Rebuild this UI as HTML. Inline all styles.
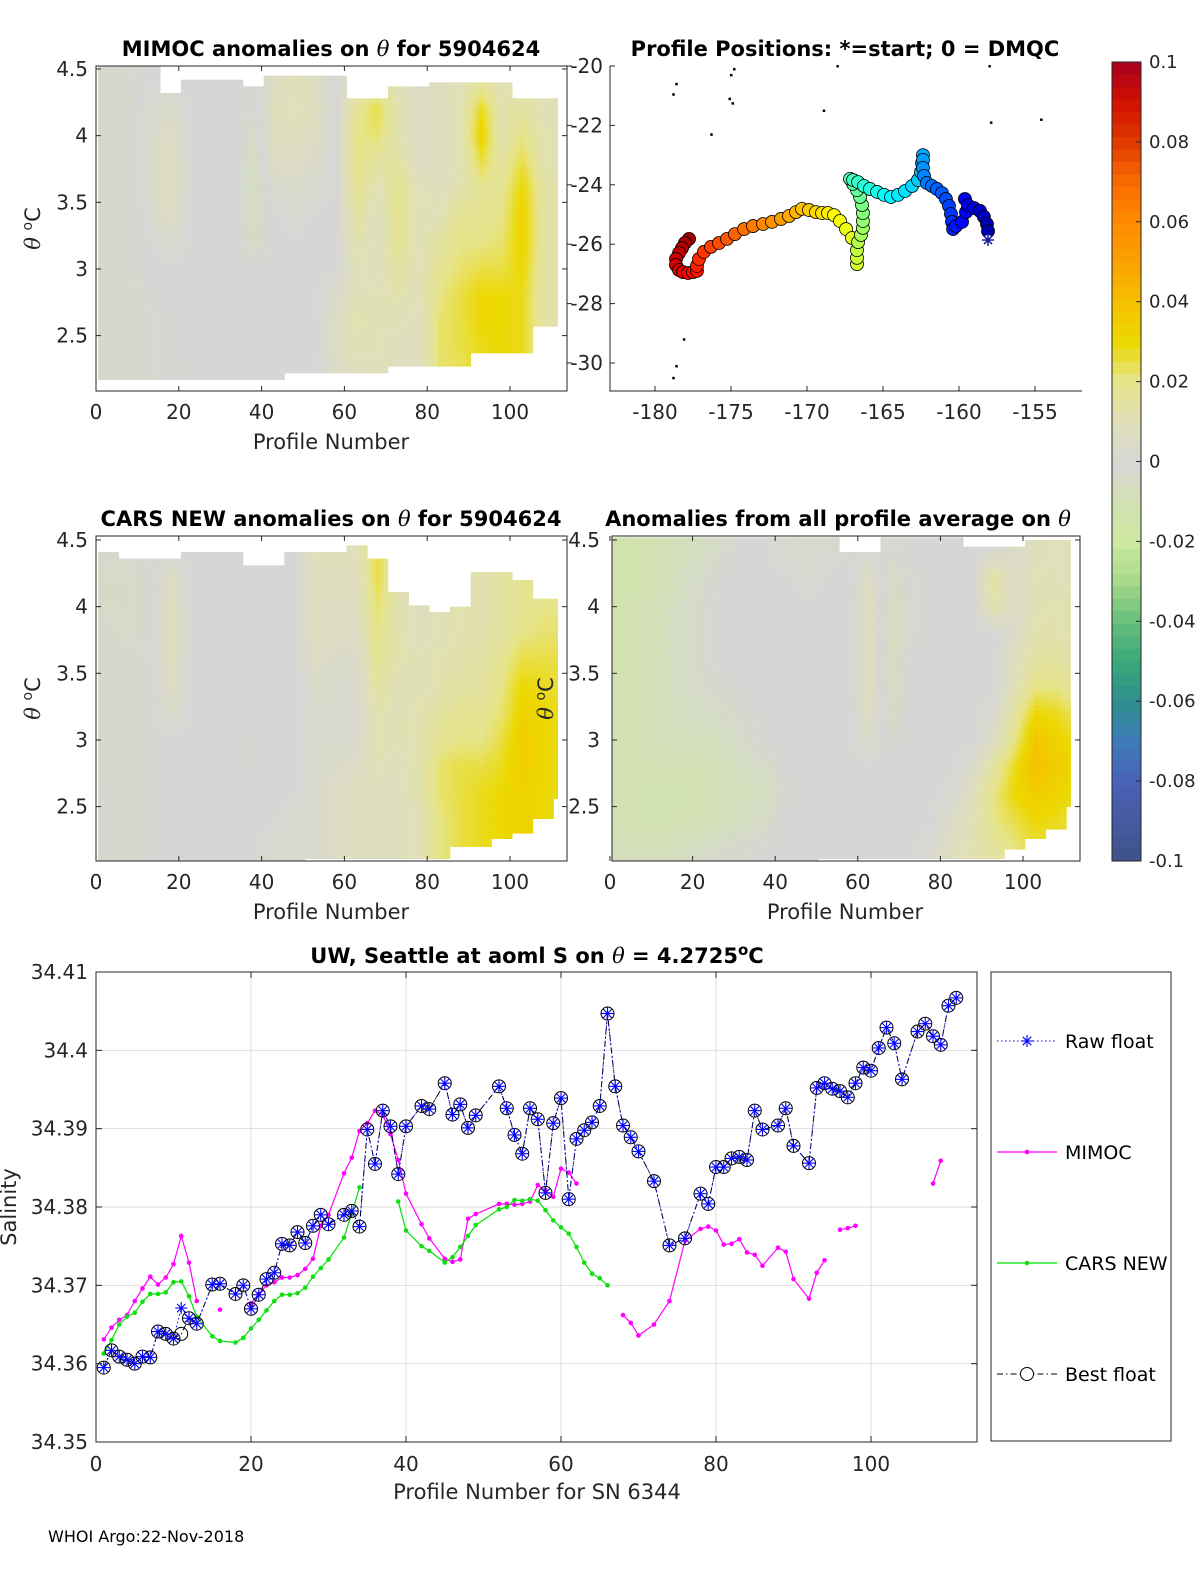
<!DOCTYPE html>
<html><head><meta charset="utf-8">
<style>
html,body{margin:0;padding:0;background:#fff;}
svg{display:block;font-family:"DejaVu Sans","Liberation Sans",sans-serif;}
</style></head>
<body>
<svg id="fig" width="1200" height="1575" viewBox="0 0 1200 1575" xmlns="http://www.w3.org/2000/svg">
<rect width="1200" height="1575" fill="#fff"/>
<g id="p1"></g>
<g id="p2"></g>
<g id="p3"></g>
<g id="p4"></g>
<g id="cb"></g>
<g id="p5"></g>
<text x="48" y="1542" font-size="16" fill="#000">WHOI Argo:22-Nov-2018</text>
</svg>
<script>
// ---------- heatmap data (anomaly in units of 0.001; columns = 5-profile groups, rows = theta bands from 4.5 downward) ----------
const mimocCols = [
[-3,-3,-3,-3,-3,-3,-3,-3,-3,-3,-3,-3],[-2,-2,-2,-2,-2,-2,-3,-3,-3,-3,-3,-3],[0,2,3,3,3,2,0,0,-1,-2,-2,-2],
[0,4,6,8,8,6,3,0,0,-1,-1,-1],[0,0,0,0,0,0,0,0,0,0,0,-1],[0,0,0,0,0,0,0,0,0,0,0,0],[0,0,0,0,0,0,0,0,0,0,0,0],
[0,-2,-4,-6,-6,-6,-5,0,0,0,0,0],[6,8,8,6,2,0,0,0,0,0,0,0],[10,10,8,6,4,2,0,0,0,0,0,0],[6,8,6,4,2,0,0,0,0,0,0,0],
[0,0,0,0,0,0,0,0,4,6,6,4],[8,18,20,20,18,15,12,10,10,12,10,8],[10,25,22,15,10,8,8,8,10,10,10,8],
[10,12,12,15,18,18,18,15,12,10,8,8],[5,5,5,6,10,10,10,10,10,8,8,8],[8,8,8,8,8,10,15,18,20,22,22,22],
[10,10,10,10,12,18,20,22,25,25,25,22],[12,28,32,25,18,18,20,25,30,30,28,28],[10,12,12,15,18,20,22,25,30,30,30,30],
[12,15,20,25,30,32,32,30,28,28,28,28],[10,10,12,12,15,15,15,15,15,15,15,15],[10,10,10,10,12,12,12,12,12,12,12,12]];
const mimocTop = [4.52,4.52,4.52,4.32,4.42,4.42,4.42,4.37,4.45,4.45,4.45,4.45,4.28,4.28,4.37,4.37,4.4,4.4,4.4,4.4,4.28,4.28,4.28];
const mimocBot = [2.17,2.17,2.17,2.17,2.17,2.17,2.17,2.17,2.17,2.22,2.22,2.22,2.22,2.22,2.27,2.27,2.27,2.27,2.37,2.37,2.37,2.57,2.57];

const carsCols = [
[-3,-4,-4,-3,-3,-3,-3,-3,-3,-2,-2,-2],[-3,-4,-4,-4,-3,-3,-3,-3,-3,-3,-3,-3],[-1,-2,-2,-2,-1,-1,-1,-1,-1,-1,-1,-1],
[0,6,8,8,8,6,4,0,0,0,0,0],[0,0,0,0,0,0,0,0,0,0,0,0],[0,0,0,0,0,0,0,0,0,0,0,0],[0,0,0,0,0,0,0,0,0,0,0,0],
[0,0,0,0,0,0,0,-1,-1,0,0,0],[0,0,0,0,0,0,0,0,0,0,0,3],[0,0,0,0,0,0,0,0,0,0,3,3],
[10,8,8,8,6,4,3,3,3,3,3,3],[8,8,6,6,4,3,3,3,4,6,6,6],[10,8,8,6,4,3,3,3,6,8,8,8],
[25,25,22,20,18,15,12,12,10,8,8,8],[12,12,12,12,12,10,10,10,8,8,8,8],[8,8,8,8,10,10,12,12,12,12,10,10],
[10,10,10,10,12,12,15,18,22,22,20,20],[12,12,12,12,12,15,18,20,25,25,25,25],[12,12,12,12,15,15,18,20,25,28,28,28],
[15,15,15,15,18,20,22,25,28,30,30,30],[18,18,18,20,25,30,32,35,35,32,32,32],[20,20,20,22,25,28,30,30,30,30,30,30],
[20,20,20,22,25,25,28,28,28,28,28,28]];
const carsTop = [4.41,4.36,4.36,4.36,4.41,4.41,4.41,4.31,4.31,4.41,4.41,4.41,4.46,4.36,4.11,4.01,3.96,4.0,4.26,4.26,4.2,4.06,4.06];
const carsBot = [2.08,2.08,2.08,2.08,2.08,2.08,2.08,2.08,2.08,2.08,2.11,2.11,2.11,2.11,2.11,2.11,2.11,2.2,2.2,2.26,2.3,2.41,2.56];

const avgCols = [
[-14,-14,-12,-12,-12,-10,-10,-10,-10,-10,-10,-8],[-12,-12,-10,-10,-10,-10,-10,-10,-10,-12,-12,-8],
[-10,-10,-8,-8,-8,-8,-8,-8,-10,-12,-12,-8],[-8,-6,-5,-5,-5,-5,-6,-8,-10,-12,-10,-6],
[-6,-3,-2,-2,-2,-3,-5,-8,-10,-10,-10,-4],[-3,0,0,0,0,-2,-4,-6,-8,-8,-8,-2],[0,0,0,0,0,0,-2,-3,-6,-8,-6,-2],
[0,0,0,0,0,0,0,0,-4,-6,-4,0],[3,0,0,0,0,0,0,0,0,-2,0,0],[3,2,0,0,0,0,0,0,0,0,0,0],[2,0,0,0,0,0,0,0,0,0,0,0],
[0,0,0,0,0,0,0,0,0,0,0,0],[0,6,8,8,8,8,6,4,0,0,0,0],[-2,-5,-6,-7,-7,-6,-5,-2,0,0,0,0],[0,-2,-2,-2,0,0,0,0,0,0,0,0],
[0,0,0,0,0,0,0,0,0,0,0,3],[0,0,0,0,0,0,0,0,0,2,5,8],[0,0,0,0,0,0,0,0,4,8,10,12],[0,15,12,0,0,0,2,6,15,20,20,15],
[5,5,5,5,8,10,15,20,28,30,25,20],[8,10,10,12,15,20,30,38,40,35,30,25],[10,10,12,12,15,20,28,32,35,32,28,25],
[8,8,10,10,12,15,22,28,30,28,25,22]];
const avgTop = [4.52,4.52,4.52,4.52,4.52,4.52,4.52,4.52,4.52,4.52,4.52,4.41,4.41,4.52,4.52,4.52,4.52,4.45,4.45,4.45,4.5,4.5,4.5];
const avgBot = [2.08,2.08,2.08,2.08,2.08,2.08,2.08,2.08,2.08,2.08,2.11,2.11,2.11,2.11,2.11,2.11,2.11,2.11,2.11,2.18,2.26,2.33,2.5];

const rowCenters = [4.45,4.2,4.0,3.8,3.6,3.4,3.2,3.0,2.8,2.6,2.4,2.15];
const thetaTicks = [2.5,3,3.5,4,4.5];
const profTicks = [0,20,40,60,80,100];

// ---------- map data ----------
const trackLon = [-158.09,-158.09,-158.16,-158.36,-158.62,-159.01,-159.41,-159.61,-159.54,-159.80,-160.20,-160.39,-160.46,-160.53,-160.66,-160.86,-161.12,-161.45,-161.78,-162.11,-162.30,-162.37,-162.37,-162.37,-162.43,-162.50,-162.70,-163.09,-163.55,-164.01,-164.47,-164.93,-165.39,-165.86,-166.25,-166.64,-166.97,-167.17,-166.97,-166.71,-166.51,-166.38,-166.32,-166.32,-166.32,-166.45,-166.64,-166.71,-166.71,-166.71,-167.04,-167.43,-167.83,-168.22,-168.62,-169.01,-169.41,-169.87,-170.33,-170.72,-171.18,-171.71,-172.30,-172.89,-173.55,-174.14,-174.74,-175.26,-175.79,-176.32,-176.78,-177.11,-177.24,-177.24,-177.50,-177.83,-178.16,-178.42,-178.62,-178.62,-178.42,-178.22,-178.03,-177.76];
const trackLat = [-25.86,-25.56,-25.32,-25.08,-24.88,-24.78,-24.68,-24.48,-24.92,-25.25,-25.39,-25.49,-25.25,-24.98,-24.71,-24.48,-24.28,-24.14,-24.04,-23.94,-23.70,-23.43,-23.16,-23.00,-23.27,-23.57,-23.84,-24.04,-24.21,-24.34,-24.41,-24.34,-24.24,-24.14,-24.04,-23.91,-23.84,-23.80,-23.97,-24.18,-24.41,-24.68,-24.95,-25.22,-25.45,-25.69,-25.93,-26.20,-26.46,-26.67,-25.79,-25.49,-25.22,-25.02,-24.95,-24.95,-24.92,-24.85,-24.81,-24.92,-25.05,-25.15,-25.25,-25.32,-25.39,-25.49,-25.66,-25.82,-25.96,-26.09,-26.26,-26.50,-26.73,-26.90,-26.94,-26.97,-26.94,-26.87,-26.70,-26.50,-26.30,-26.13,-25.96,-25.82];
const islandLon = [-178.6,-178.8,-174.8,-175.0,-175.1,-174.9,-176.3,-168.9,-168.0,-158.0,-154.6,-157.9,-178.1,-178.6,-178.8];
const islandLat = [-20.6,-20.95,-20.1,-20.3,-21.1,-21.25,-22.3,-21.5,-20.0,-20.0,-21.8,-21.9,-29.2,-30.1,-30.5];
const lonTicks = [-180,-175,-170,-165,-160,-155];
const latTicks = [-20,-22,-24,-26,-28,-30];

// ---------- salinity chart data ----------
const bestP = [1,2,3,4,5,6,7,8,9,10,11,12,13,15,16,18,19,20,21,22,23,24,25,26,27,28,29,30,32,33,34,35,36,37,38,39,40,42,43,45,46,47,48,49,52,53,54,55,56,57,58,59,60,61,62,63,64,65,66,67,68,69,70,72,74,76,78,79,80,81,82,83,84,85,86,88,89,90,92,93,94,95,96,97,98,99,100,101,102,103,104,106,107,108,109,110,111];
const bestS = [34.3595,34.3617,34.3609,34.3605,34.3600,34.3609,34.3608,34.3641,34.3638,34.3632,34.3638,34.3658,34.3651,34.3701,34.3702,34.3689,34.3700,34.3670,34.3688,34.3708,34.3716,34.3753,34.3751,34.3768,34.3754,34.3776,34.3790,34.3778,34.3790,34.3795,34.3775,34.3899,34.3855,34.3923,34.3903,34.3842,34.3903,34.3929,34.3925,34.3958,34.3918,34.3931,34.3901,34.3917,34.3954,34.3926,34.3892,34.3868,34.3926,34.3912,34.3818,34.3907,34.3939,34.3810,34.3887,34.3898,34.3908,34.3929,34.4047,34.3954,34.3904,34.3889,34.3871,34.3833,34.3751,34.3760,34.3817,34.3804,34.3851,34.3851,34.3862,34.3864,34.3860,34.3923,34.3899,34.3904,34.3926,34.3878,34.3856,34.3952,34.3958,34.3951,34.3948,34.3940,34.3958,34.3978,34.3974,34.4003,34.4029,34.4009,34.3963,34.4024,34.4034,34.4018,34.4007,34.4057,34.4067];
const rawP = [1,2,3,4,5,6,7,8,9,10,11,12,13,15,16,18,19,20,21,22,23,24,25,26,27,28,29,30,32,33,34,35,36,37,38,39,40,42,43,45,46,47,48,49,52,53,54,55,56,57,58,59,60,61,62,63,64,65,66,67,68,69,70,72,74,76,78,79,80,81,82,83,84,85,86,88,89,90,92,93,94,95,96,97,98,99,100,101,102,103,104,106,107,108,109,110,111];
const rawS = [34.3595,34.3617,34.3609,34.3605,34.3600,34.3609,34.3608,34.3641,34.3638,34.3632,34.3671,34.3658,34.3651,34.3701,34.3702,34.3689,34.3700,34.3670,34.3688,34.3708,34.3716,34.3753,34.3751,34.3768,34.3754,34.3776,34.3790,34.3778,34.3790,34.3795,34.3775,34.3899,34.3855,34.3923,34.3903,34.3842,34.3903,34.3929,34.3925,34.3958,34.3918,34.3931,34.3901,34.3917,34.3954,34.3926,34.3892,34.3868,34.3926,34.3912,34.3818,34.3907,34.3939,34.3810,34.3887,34.3898,34.3908,34.3929,34.4047,34.3954,34.3904,34.3889,34.3871,34.3833,34.3751,34.3760,34.3817,34.3804,34.3851,34.3851,34.3862,34.3864,34.3860,34.3923,34.3899,34.3904,34.3926,34.3878,34.3856,34.3952,34.3958,34.3951,34.3948,34.3940,34.3958,34.3978,34.3974,34.4003,34.4029,34.4009,34.3963,34.4024,34.4034,34.4018,34.4007,34.4057,34.4067];
const mimP = [1,2,3,4,5,6,7,8,9,10,11,12,13,null,16,null,20,21,22,23,24,25,26,27,28,29,30,32,33,34,35,36,37,38,39,40,42,43,45,46,47,48,49,52,53,54,55,56,57,58,59,60,61,62,null,68,69,70,72,74,76,78,79,80,81,82,83,84,85,86,88,89,90,92,93,94,null,96,97,98,null,108,109];
const mimS = [34.3631,34.3646,34.3656,34.3662,34.3680,34.3696,34.3711,34.3701,34.3710,34.3727,34.3763,34.3729,34.3680,null,34.3669,null,34.3677,34.3689,34.3700,34.3704,34.3710,34.3710,34.3713,34.3721,34.3734,34.3776,34.3790,34.3843,34.3863,34.3897,34.3907,34.3923,34.3918,34.3893,34.3860,34.3817,34.3778,34.3760,34.3734,34.3730,34.3733,34.3785,34.3791,34.3804,34.3804,34.3803,34.3804,34.3807,34.3828,34.3821,34.3813,34.3849,34.3844,34.3830,null,34.3662,34.3652,34.3636,34.3650,34.3680,34.3757,34.3772,34.3775,34.3770,34.3752,34.3753,34.3759,34.3742,34.3739,34.3725,34.3748,34.3743,34.3708,34.3683,34.3716,34.3732,null,34.3771,34.3773,34.3776,null,34.3830,34.3859];
const carsP = [1,2,3,4,5,6,7,8,9,10,11,12,13,15,16,18,19,20,21,22,23,24,25,26,27,28,29,30,32,33,34,null,39,40,42,43,45,46,47,48,49,52,53,54,55,56,57,58,59,60,61,62,63,64,65,66];
const carsS = [34.3613,34.3630,34.3650,34.3660,34.3665,34.3679,34.3689,34.3689,34.3691,34.3704,34.3705,34.3686,34.3660,34.3635,34.3629,34.3627,34.3633,34.3645,34.3656,34.3668,34.3680,34.3688,34.3688,34.3690,34.3697,34.3711,34.3722,34.3733,34.3761,34.3792,34.3825,null,34.3807,34.3770,34.3750,34.3744,34.3729,34.3736,34.3749,34.3763,34.3777,34.3797,34.3800,34.3809,34.3808,34.3810,34.3808,34.3796,34.3783,34.3774,34.3766,34.3749,34.3729,34.3715,34.3709,34.3700];
const salTicks = [34.35,34.36,34.37,34.38,34.39,34.40,34.41];
const salTickLabels = ["34.35","34.36","34.37","34.38","34.39","34.4","34.41"];
const xTicks5 = [0,20,40,60,80,100];

// ---------- helpers ----------
const NS = "http://www.w3.org/2000/svg";
function mk(tag, attrs, parent) {
  const e = document.createElementNS(NS, tag);
  for (const k in attrs) e.setAttribute(k, attrs[k]);
  if (parent) parent.appendChild(e);
  return e;
}
const TXT = "#262626";
const TFS = 20;

const cmStops = [[-0.1,[62,82,136]],[-0.09,[70,90,160]],[-0.08,[72,98,184]],[-0.07,[63,123,184]],[-0.06,[46,143,142]],
 [-0.05,[58,169,122]],[-0.04,[104,191,124]],[-0.03,[168,218,138]],[-0.02,[205,232,162]],[-0.01,[211,224,180]],[0,[214,214,214]],
 [0.01,[224,224,184]],[0.02,[230,228,138]],[0.03,[236,216,0]],[0.04,[245,192,0]],[0.05,[252,160,0]],[0.06,[255,138,0]],
 [0.07,[248,106,0]],[0.08,[224,58,0]],[0.09,[208,16,0]],[0.1,[168,0,32]]];
function cmap(v) {
  v = Math.max(-0.1, Math.min(0.1, v));
  for (let i = 0; i < cmStops.length - 1; i++) {
    const a = cmStops[i], b = cmStops[i+1];
    if (v <= b[0]) {
      const t = (v - a[0]) / (b[0] - a[0]);
      const c = a[1].map((x, j) => Math.round(x + (b[1][j] - x) * t));
      return "rgb(" + c.join(",") + ")";
    }
  }
  return "rgb(168,0,32)";
}
function jet(t) {
  const r = Math.max(0, Math.min(1, 1.5 - Math.abs(4*t - 3)));
  const g = Math.max(0, Math.min(1, 1.5 - Math.abs(4*t - 2)));
  const b = Math.max(0, Math.min(1, 1.5 - Math.abs(4*t - 1)));
  return "rgb(" + Math.round(r*255) + "," + Math.round(g*255) + "," + Math.round(b*255) + ")";
}

function sample(cols, p, th) {
  let cf = (p - 3) / 5;
  cf = Math.max(0, Math.min(cols.length - 1, cf));
  const c0 = Math.floor(cf), c1 = Math.min(cols.length - 1, c0 + 1), tc = cf - c0;
  let r0 = 0, r1 = 0, tr = 0;
  if (th >= rowCenters[0]) { r0 = r1 = 0; }
  else if (th <= rowCenters[rowCenters.length-1]) { r0 = r1 = rowCenters.length - 1; }
  else {
    for (let i = 0; i < rowCenters.length - 1; i++) {
      if (th <= rowCenters[i] && th >= rowCenters[i+1]) { r0 = i; r1 = i+1; tr = (rowCenters[i] - th)/(rowCenters[i] - rowCenters[i+1]); break; }
    }
  }
  const v00 = cols[c0][r0], v01 = cols[c0][r1], v10 = cols[c1][r0], v11 = cols[c1][r1];
  const v0 = v00 + (v01 - v00)*tr, v1 = v10 + (v11 - v10)*tr;
  return (v0 + (v1 - v0)*tc) / 1000;
}

function heatPanel(g, opt) {
  const {x0, y0, w, h, px0, pxScale, thTopY, cols, tops, bots, name} = opt;
  const xs = p => px0 + p * pxScale;
  const ys = th => thTopY + (4.5 - th) * 133.3;
  const thAtBox = y => 4.5 - (y - thTopY) / 133.3;
  const clipId = "clip-" + name;
  const cp = mk("clipPath", {id: clipId}, g);
  mk("rect", {x: x0, y: y0, width: w, height: h}, cp);
  const hg = mk("g", {"clip-path": "url(#" + clipId + ")"}, g);
  
  
  const dth = 0.04;
  for (let p = 1; p <= 111; p++) {
    const c = Math.min(cols.length - 1, Math.floor((p - 1) / 5));
    const top = Math.min(tops[c], thAtBox(y0)), bot = Math.max(bots[c], thAtBox(y0 + h));
    for (let th = top; th > bot; th -= dth) {
      const thb = Math.max(bot, th - dth);
      const v = sample(cols, p, (th + thb) / 2);
      const r = mk("rect", {x: xs(p - 0.5).toFixed(2), y: ys(th).toFixed(2), width: (pxScale + 0.4).toFixed(2), height: ((th - thb) * 133.3 + 0.4).toFixed(2), fill: cmap(v)}, hg);
      
      
    }
  }
  const box = mk("rect", {x: x0, y: y0, width: w, height: h, fill: "none", stroke: TXT, "stroke-width": 1}, g);
  
  
  profTicks.forEach(t => {
    const x = xs(t);
    mk("line", {x1: x, x2: x, y1: y0 + h, y2: y0 + h - 5, stroke: TXT}, g);
    mk("line", {x1: x, x2: x, y1: y0, y2: y0 + 5, stroke: TXT}, g);
    const tx = mk("text", {x: x, y: y0 + h + 28, "font-size": TFS, fill: TXT, "text-anchor": "middle"}, g);
    tx.textContent = t;
    
    
  });
  thetaTicks.forEach(t => {
    const y = ys(t);
    mk("line", {x1: x0, x2: x0 + 5, y1: y, y2: y, stroke: TXT}, g);
    mk("line", {x1: x0 + w, x2: x0 + w - 5, y1: y, y2: y, stroke: TXT}, g);
    const tx = mk("text", {x: opt.yLabX, y: y + 7, "font-size": TFS, fill: TXT, "text-anchor": "end"}, g);
    tx.textContent = t;
    
    
  });
  const xl = mk("text", {x: opt.xTitleX, y: y0 + h + 58, "font-size": 21, fill: TXT, "text-anchor": "middle"}, g);
  xl.textContent = "Profile Number";
  
  
  const yl = mk("text", {x: 0, y: 0, "font-size": 21, fill: TXT, "text-anchor": "middle", transform: "translate(" + opt.yTitleX + "," + (y0 + h/2) + ") rotate(-90)"}, g);
  yl.innerHTML = '<tspan font-family="DejaVu Serif, serif" font-style="italic">θ</tspan> <tspan dy="-8" font-size="14">o</tspan><tspan dy="8">C</tspan>';
  
  
  const ti = mk("text", {x: opt.titleX, y: y0 - 10, "font-size": 21, "font-weight": "bold", fill: "#000", "text-anchor": "middle"}, g);
  ti.innerHTML = opt.title;
  
  
}

const TH = '<tspan font-family="DejaVu Serif, serif" font-style="italic" font-weight="normal">θ</tspan>';
heatPanel(document.getElementById("p1"), {x0: 96, y0: 66, w: 471, h: 325, px0: 96, pxScale: 4.14, thTopY: 69, cols: mimocCols, tops: mimocTop, bots: mimocBot, name: "mimoc", yLabX: 88, xTitleX: 331, yTitleX: 40, titleX: 331, title: 'MIMOC anomalies on ' + TH + '  for 5904624'});
heatPanel(document.getElementById("p3"), {x0: 96, y0: 536, w: 471, h: 325, px0: 96, pxScale: 4.14, thTopY: 540, cols: carsCols, tops: carsTop, bots: carsBot, name: "cars", yLabX: 88, xTitleX: 331, yTitleX: 40, titleX: 331, title: 'CARS NEW anomalies on ' + TH + ' for 5904624'});
heatPanel(document.getElementById("p4"), {x0: 612, y0: 536, w: 468, h: 325, px0: 610, pxScale: 4.13, thTopY: 540, cols: avgCols, tops: avgTop, bots: avgBot, name: "average", yLabX: 600, xTitleX: 845, yTitleX: 553, titleX: 838, title: 'Anomalies from all profile average on ' + TH});

// ---------- map ----------
(function(){
  const g = document.getElementById("p2");
  const x0 = 610, y0 = 66, w = 472, h = 325;
  const lx = lon => 655 + (lon + 180) * 15.2;
  const ly = lat => 66 + (-20 - lat) * 29.7;
  for (let i = 0; i < islandLon.length; i++) {
    const r = mk("rect", {x: lx(islandLon[i]) - 1, y: ly(islandLat[i]) - 1, width: 2.5, height: 2.5, fill: "#000"}, g);
    
    
  }
  const n = trackLon.length;
  for (let i = n - 1; i >= 1; i--) {
    const c = mk("circle", {cx: lx(trackLon[i]), cy: ly(trackLat[i]), r: 6.5, fill: jet(i / (n - 1) * 0.94 + 0.03), stroke: "#000", "stroke-width": 0.8}, g);
    
    
  }
  const sx = lx(trackLon[0]), sy = ly(trackLat[0]);
  const st = mk("g", {stroke: "#1a1a9a", "stroke-width": 1.5}, g);
  
  
  mk("circle", {cx: sx, cy: sy, r: 5, fill: "#fff", stroke: "none"}, st);
  mk("line", {x1: sx-6, x2: sx+6, y1: sy, y2: sy}, st);
  mk("line", {x1: sx, x2: sx, y1: sy-6, y2: sy+6}, st);
  mk("line", {x1: sx-4, x2: sx+4, y1: sy-4, y2: sy+4}, st);
  mk("line", {x1: sx-4, x2: sx+4, y1: sy+4, y2: sy-4}, st);
  const box = mk("path", {d: "M" + x0 + " " + (y0) + " V" + (y0+h) + " H" + (x0+w), fill: "none", stroke: TXT}, g);
  
  
  lonTicks.forEach(t => {
    const x = lx(t);
    mk("line", {x1: x, x2: x, y1: y0+h, y2: y0+h-5, stroke: TXT}, g);
    const tx = mk("text", {x: x, y: y0+h+28, "font-size": TFS, fill: TXT, "text-anchor": "middle"}, g);
    tx.textContent = t;
    
    
  });
  latTicks.forEach(t => {
    const y = ly(t);
    mk("line", {x1: x0, x2: x0+5, y1: y, y2: y, stroke: TXT}, g);
    mk("line", {x1: 567, x2: 572, y1: y, y2: y, stroke: TXT}, g);
    const tx = mk("text", {x: 603, y: y+7, "font-size": TFS, fill: TXT, "text-anchor": "end"}, g);
    tx.textContent = t;
    
    
  });
  const ti = mk("text", {x: 845, y: 56, "font-size": 21, "font-weight": "bold", fill: "#000", "text-anchor": "middle"}, g);
  ti.textContent = "Profile Positions: *=start; 0 = DMQC";
  
  
})();

// ---------- colorbar ----------
const cbTicks = [0.1,0.08,0.06,0.04,0.02,0,-0.02,-0.04,-0.06,-0.08,-0.1];
const cbLabels = ["0.1","0.08","0.06","0.04","0.02","0","-0.02","-0.04","-0.06","-0.08","-0.1"];
(function(){
  const g = document.getElementById("cb");
  const x0 = 1112, y0 = 62, w = 29, h = 799;
  const yv = v => y0 + (0.1 - v) / 0.2 * h;
  const nb = 64;
  for (let i = 0; i < nb; i++) {
    const v = 0.1 - (i + 0.5) * 0.2 / nb;
    const r = mk("rect", {x: x0, y: (y0 + i*h/nb).toFixed(2), width: w, height: (h/nb + 0.5).toFixed(2), fill: cmap(v)}, g);
    
    
  }
  mk("rect", {x: x0, y: y0, width: w, height: h, fill: "none", stroke: TXT}, g);
  cbTicks.forEach((t, i) => {
    const y = yv(t);
    mk("line", {x1: x0+w-5, x2: x0+w, y1: y, y2: y, stroke: TXT}, g);
    const tx = mk("text", {x: x0+w+8, y: y+6, "font-size": 18, fill: TXT}, g);
    tx.textContent = cbLabels[i];
    
    
  });
})();

// ---------- salinity chart ----------
(function(){
  const g = document.getElementById("p5");
  const x0 = 96, y0 = 972, w = 881, h = 470;
  const xs = p => 96 + p * 7.75;
  const ys = s => 1442 - (s - 34.35) / 0.06 * 470;
  xTicks5.forEach(t => { if (t > 0) mk("line", {x1: xs(t), x2: xs(t), y1: y0, y2: y0+h, stroke: "#dedede"}, g); });
  salTicks.forEach(t => { mk("line", {x1: x0, x2: x0+w, y1: ys(t), y2: ys(t), stroke: "#dedede"}, g); });
  function path(P, S) {
    let d = "", pen = false;
    for (let i = 0; i < P.length; i++) {
      if (P[i] === null || S[i] === null) { pen = false; continue; }
      d += (pen ? "L" : "M") + xs(P[i]).toFixed(1) + " " + ys(S[i]).toFixed(1) + " ";
      pen = true;
    }
    return d;
  }
  const mg = mk("g", {}, g);
  
  
  mk("path", {d: path(mimP, mimS), fill: "none", stroke: "#ff00ff", "stroke-width": 1.2}, mg);
  mimP.forEach((p, i) => { if (p !== null) {
    const c = mk("circle", {cx: xs(p), cy: ys(mimS[i]), r: 2.3, fill: "#ff00ff"}, mg);
    
    
  }});
  const cg = mk("g", {}, g);
  
  
  mk("path", {d: path(carsP, carsS), fill: "none", stroke: "#00e000", "stroke-width": 1.2}, cg);
  carsP.forEach((p, i) => { if (p !== null) {
    const c = mk("circle", {cx: xs(p), cy: ys(carsS[i]), r: 2.3, fill: "#11dd11"}, cg);
    
    
  }});
  const bg = mk("g", {}, g);
  
  
  mk("path", {d: path(bestP, bestS), fill: "none", stroke: "#000", "stroke-width": 1, "stroke-dasharray": "6,3,1.5,3"}, bg);
  bestP.forEach((p, i) => {
    const c = mk("circle", {cx: xs(p), cy: ys(bestS[i]), r: 6.5, fill: "none", stroke: "#000", "stroke-width": 1}, bg);
    
    
  });
  const rg = mk("g", {}, g);
  
  
  mk("path", {d: path(rawP, rawS), fill: "none", stroke: "#0000ff", "stroke-width": 1, "stroke-dasharray": "1.5,2.5"}, rg);
  function star(parent, x, y, s) {
    const st = mk("g", {stroke: "#0000ff", "stroke-width": 1.1}, parent);
    mk("line", {x1: x-s, x2: x+s, y1: y, y2: y}, st);
    mk("line", {x1: x, x2: x, y1: y-s, y2: y+s}, st);
    mk("line", {x1: x-s*0.7, x2: x+s*0.7, y1: y-s*0.7, y2: y+s*0.7}, st);
    mk("line", {x1: x-s*0.7, x2: x+s*0.7, y1: y+s*0.7, y2: y-s*0.7}, st);
    return st;
  }
  rawP.forEach((p, i) => {
    const st = star(rg, xs(p), ys(rawS[i]), 6);
    
    
  });
  const box = mk("rect", {x: x0, y: y0, width: w, height: h, fill: "none", stroke: TXT}, g);
  
  
  xTicks5.forEach(t => {
    const x = xs(t);
    mk("line", {x1: x, x2: x, y1: y0+h, y2: y0+h-6, stroke: TXT}, g);
    mk("line", {x1: x, x2: x, y1: y0, y2: y0+6, stroke: TXT}, g);
    const tx = mk("text", {x: x, y: y0+h+29, "font-size": TFS, fill: TXT, "text-anchor": "middle"}, g);
    tx.textContent = t;
    
    
  });
  salTicks.forEach((t, i) => {
    const y = ys(t);
    mk("line", {x1: x0, x2: x0+6, y1: y, y2: y, stroke: TXT}, g);
    mk("line", {x1: x0+w, x2: x0+w-6, y1: y, y2: y, stroke: TXT}, g);
    const tx = mk("text", {x: 88, y: y+7, "font-size": TFS, fill: TXT, "text-anchor": "end"}, g);
    tx.textContent = salTickLabels[i];
    
    
  });
  const xl = mk("text", {x: 537, y: 1499, "font-size": 21, fill: TXT, "text-anchor": "middle"}, g);
  xl.textContent = "Profile Number for SN 6344";
  
  
  const yl = mk("text", {x: 0, y: 0, "font-size": 21, fill: TXT, "text-anchor": "middle", transform: "translate(16,1207) rotate(-90)"}, g);
  yl.textContent = "Salinity";
  
  
  const ti = mk("text", {x: 537, y: 963, "font-size": 21, "font-weight": "bold", fill: "#000", "text-anchor": "middle"}, g);
  ti.innerHTML = 'UW, Seattle at aoml S on ' + TH + ' = 4.2725<tspan dy="-8" font-size="15">o</tspan><tspan dy="8">C</tspan>';
  
  
  const lg = mk("g", {}, g);
  
  
  mk("rect", {x: 991, y: 972, width: 180, height: 469, fill: "#fff", stroke: TXT}, lg);
  const entries = [["Raw float", 1041], ["MIMOC", 1152], ["CARS NEW", 1263], ["Best float", 1374]];
  entries.forEach((e, i) => {
    const eg = mk("g", {}, lg);
    
    
    const y = e[1];
    if (i === 0) { mk("line", {x1: 997, x2: 1057, y1: y, y2: y, stroke: "#0000ff", "stroke-dasharray": "1.5,2.5"}, eg); star(eg, 1027, y, 6); }
    if (i === 1) { mk("line", {x1: 997, x2: 1057, y1: y, y2: y, stroke: "#ff00ff", "stroke-width": 1.2}, eg); mk("circle", {cx: 1027, cy: y, r: 2.3, fill: "#ff00ff"}, eg); }
    if (i === 2) { mk("line", {x1: 997, x2: 1057, y1: y, y2: y, stroke: "#00e000", "stroke-width": 1.2}, eg); mk("circle", {cx: 1027, cy: y, r: 2.3, fill: "#11dd11"}, eg); }
    if (i === 3) { mk("line", {x1: 997, x2: 1057, y1: y, y2: y, stroke: "#000", "stroke-dasharray": "6,3,1.5,3"}, eg); mk("circle", {cx: 1027, cy: y, r: 6.5, fill: "#fff", stroke: "#000"}, eg); }
    const tx = mk("text", {x: 1065, y: y+7, "font-size": 19, fill: "#000"}, eg);
    tx.textContent = e[0];
  });
})();
</script>
</body></html>
